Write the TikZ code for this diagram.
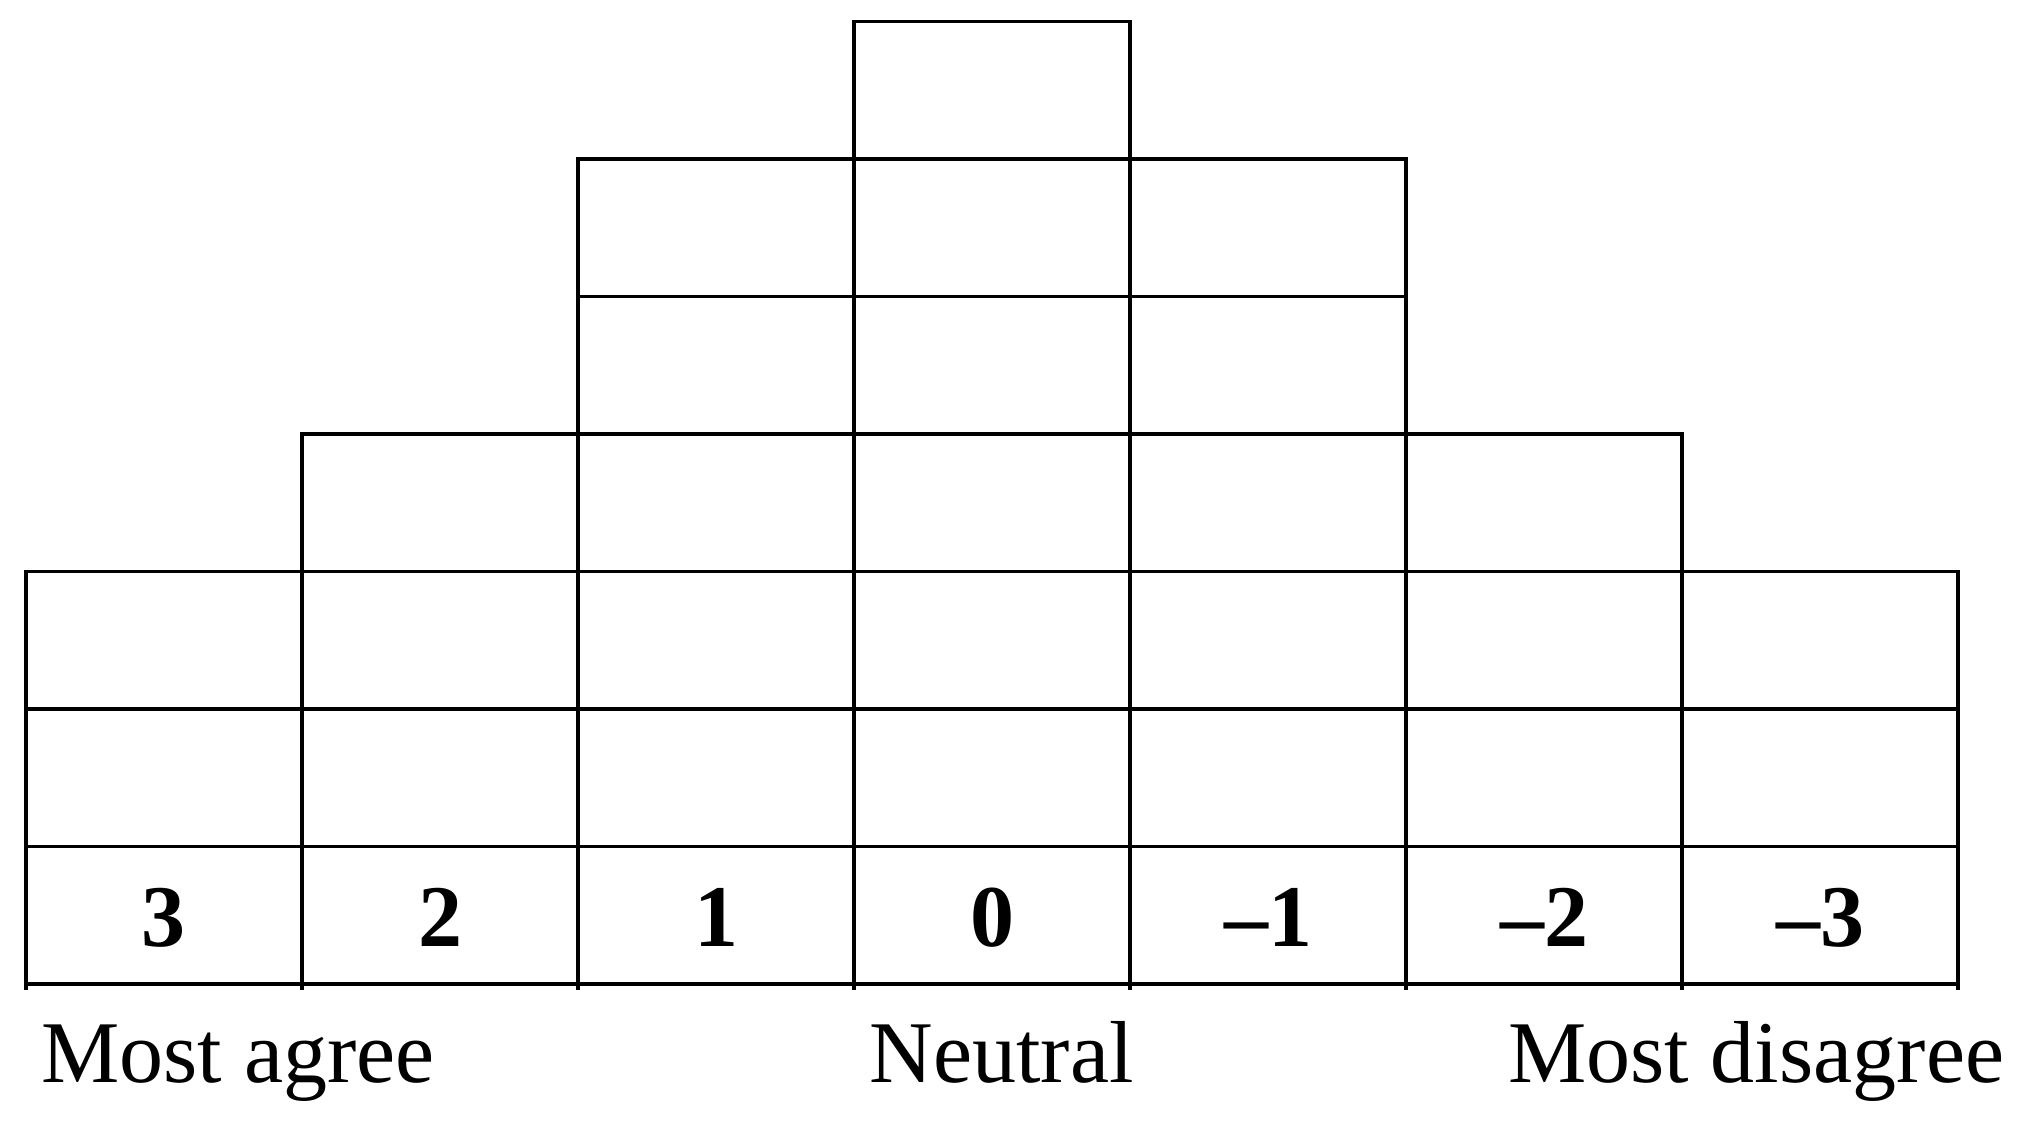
\documentclass[tikz,border=0pt]{standalone}
\usepackage{fontspec}
\setmainfont{Liberation Serif}
\usetikzlibrary{positioning}

\begin{document}
\begin{tikzpicture}[
  x=69pt, y=34.375pt,
  cell/.style={draw,line width=0.8pt},
  score/.style={font=\fontsize{22}{26}\selectfont\bfseries,anchor=base},
  caption/.style={font=\fontsize{22}{26}\selectfont,anchor=base west,inner sep=0pt}
]
\useasboundingbox (-0.0942,-1.0764) rectangle (7.2428,7.1564);

% the forced distribution grid (column/height)
\foreach \col/\h in {0/3,1/4,2/6,3/7,4/6,5/4,6/3}{
  \foreach \row in {1,...,\h}
    \draw[cell] (\col,\row-1) rectangle ++(1,1);
}
\foreach \col in {0,...,7}
  \draw[cell] (\col,0) -- (\col,-0.04);

% scores
\foreach \col/\lbl in {0/3,1/2,2/1,3/0,4/–1,5/–2,6/–3}
  \node[score] (score\col) at (\col+0.5,0.27) {\lbl};

\node[caption] (agree) at (0.053,-0.717) {Most agree};
\node[caption] (neutral) at (3.054,-0.717) {Neutral};
\node[caption,anchor=base east] (disagree) at (7.17,-0.717) {Most disagree};
\end{tikzpicture}
\end{document}
